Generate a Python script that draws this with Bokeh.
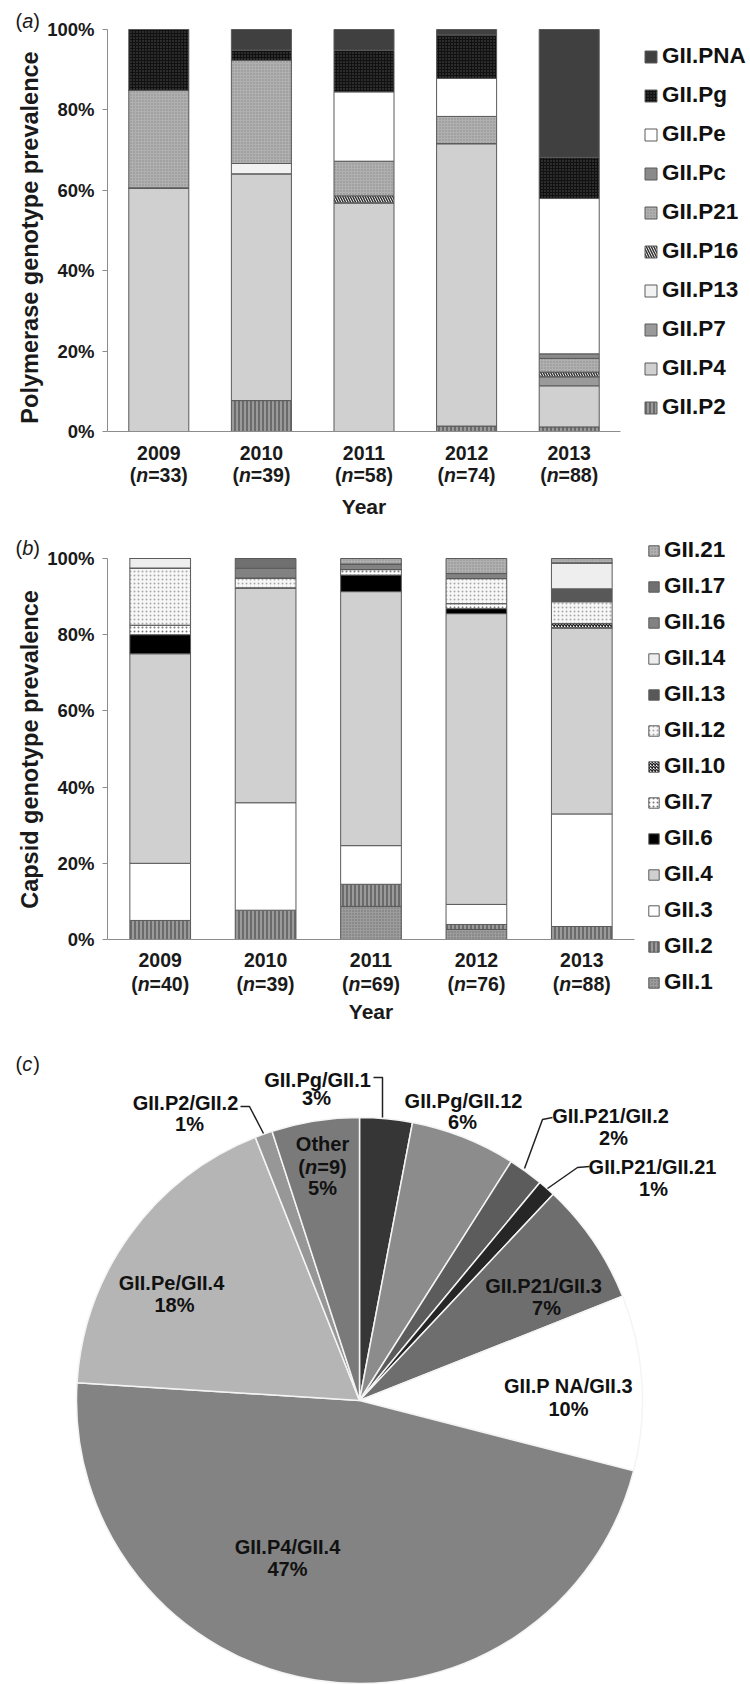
from bokeh.plotting import figure
from bokeh.layouts import column
from bokeh.models import (Range1d, FixedTicker, NumeralTickFormatter,
                          Legend, LegendItem, Label, ColumnDataSource)
from bokeh.transform import stack
from bokeh.core.properties import value
from bokeh.embed import file_html
from bokeh.resources import INLINE
import math

FONT = "Liberation Sans"
TXT = "#1a1a1a"

# ---------------- data ----------------
years = ["2009", "2010", "2011", "2012", "2013"]

# panel (a) polymerase genotypes (counts per year)
n_pol = [33, 39, 58, 74, 88]
pol_names = ["GII.P2", "GII.P4", "GII.P7", "GII.P13", "GII.P16",
             "GII.P21", "GII.Pc", "GII.Pe", "GII.Pg", "GII.PNA"]
P2 = [0, 3, 0, 1, 1]
P4 = [20, 22, 33, 52, 9]
P7 = [0, 0, 0, 0, 2]
P13 = [0, 1, 0, 0, 0]
P16 = [0, 0, 1, 0, 1]
P21 = [8, 10, 5, 5, 3]
Pc = [0, 0, 0, 0, 1]
Pe = [0, 0, 10, 7, 34]
Pg = [5, 1, 6, 8, 9]
PNA = [0, 2, 3, 1, 28]
pol_counts = [P2, P4, P7, P13, P16, P21, Pc, Pe, Pg, PNA]

# panel (b) capsid genotypes (counts per year)
n_cap = [40, 39, 69, 76, 88]
cap_names = ["GII.1", "GII.2", "GII.3", "GII.4", "GII.6", "GII.7", "GII.10",
             "GII.12", "GII.13", "GII.14", "GII.16", "GII.17", "GII.21"]
G1 = [0, 0, 6, 2, 0]
G2 = [2, 3, 4, 1, 3]
G3 = [6, 11, 7, 4, 26]
G4 = [22, 22, 46, 58, 43]
G6 = [2, 0, 3, 1, 0]
G7 = [1, 0, 1, 1, 0]
G10 = [0, 0, 0, 0, 1]
G12 = [6, 1, 0, 5, 5]
G13 = [0, 0, 0, 0, 3]
G14 = [1, 0, 0, 0, 6]
G16 = [0, 1, 1, 1, 0]
G17 = [0, 1, 0, 0, 0]
G21 = [0, 0, 1, 3, 1]
cap_counts = [G1, G2, G3, G4, G6, G7, G10, G12, G13, G14, G16, G17, G21]

# panel (c) combined genotypes (percent), clockwise from 12 o'clock
pie_names = ["GII.Pg/GII.1", "GII.Pg/GII.12", "GII.P21/GII.2", "GII.P21/GII.21",
             "GII.P21/GII.3", "GII.P NA/GII.3", "GII.P4/GII.4", "GII.Pe/GII.4",
             "GII.P2/GII.2", "Other"]
pie_pct = [3, 6, 2, 1, 7, 10, 47, 18, 1, 5]
other_n = 9

# ---------------- styles ----------------
pol_style = {
    "GII.P2": dict(fill_color="#9a9a9a", hatch_pattern="vertical_line", hatch_color="#3c3c3c", hatch_scale=4, hatch_weight=1),
    "GII.P4": dict(fill_color="#d0d0d0"),
    "GII.P7": dict(fill_color="#9a9a9a"),
    "GII.P13": dict(fill_color="#f2f2f2"),
    "GII.P16": dict(fill_color="#ffffff", hatch_pattern="left_diagonal_line", hatch_color="#333333", hatch_scale=5, hatch_weight=1.5),
    "GII.P21": dict(fill_color="#b0b0b0", hatch_pattern="dot", hatch_color="#8a8a8a", hatch_scale=3, hatch_weight=1),
    "GII.Pc": dict(fill_color="#8a8a8a"),
    "GII.Pe": dict(fill_color="#ffffff"),
    "GII.Pg": dict(fill_color="#111111", hatch_pattern="dot", hatch_color="#555555", hatch_scale=3, hatch_weight=1),
    "GII.PNA": dict(fill_color="#404040"),
}
cap_style = {
    "GII.1": dict(fill_color="#9c9c9c", hatch_pattern="dot", hatch_color="#6e6e6e", hatch_scale=3, hatch_weight=1),
    "GII.2": dict(fill_color="#9a9a9a", hatch_pattern="vertical_line", hatch_color="#3c3c3c", hatch_scale=4, hatch_weight=1),
    "GII.3": dict(fill_color="#ffffff"),
    "GII.4": dict(fill_color="#d0d0d0"),
    "GII.6": dict(fill_color="#000000"),
    "GII.7": dict(fill_color="#ffffff", hatch_pattern="dot", hatch_color="#777777", hatch_scale=4, hatch_weight=1.5),
    "GII.10": dict(fill_color="#ffffff", hatch_pattern="diagonal_cross", hatch_color="#222222", hatch_scale=3, hatch_weight=1.5),
    "GII.12": dict(fill_color="#f7f7f7", hatch_pattern="dot", hatch_color="#aaaaaa", hatch_scale=4, hatch_weight=1),
    "GII.13": dict(fill_color="#585858"),
    "GII.14": dict(fill_color="#eeeeee"),
    "GII.16": dict(fill_color="#828282"),
    "GII.17": dict(fill_color="#707070"),
    "GII.21": dict(fill_color="#b0b0b0", hatch_pattern="dot", hatch_color="#8a8a8a", hatch_scale=3, hatch_weight=1),
}
pie_colors = ["#363636", "#8c8c8c", "#5c5c5c", "#262626", "#6e6e6e",
              "#ffffff", "#838383", "#b5b5b5", "#979797", "#7a7a7a"]


def add_n_label(p, x, n, dy, fs=19.5):
    parts = [("(", "bold", 0.333), ("n", "bold italic", 0.611),
             ("=%d)" % n, "bold", 0.584 + 0.556 * len(str(n)) + 0.333)]
    W = sum(w for _, _, w in parts) * fs
    xo = -W / 2
    for t, style, w in parts:
        p.add_layout(Label(x=x, y=0, x_offset=xo, y_offset=-dy, text=t,
                           text_font=FONT, text_font_style=style,
                           text_font_size="%.1fpx" % fs, text_baseline="middle",
                           text_align="left", text_color=TXT))
        xo += w * fs


def add_panel_tag(p, letter, x, y, fs=20):
    parts = [("(", "normal", 0.333), (letter, "italic", 0.556), (")", "normal", 0.333)]
    xo = x
    for t, style, w in parts:
        p.add_layout(Label(x=xo, y=y, x_units="screen", y_units="screen", text=t,
                           text_font=FONT, text_font_style=style,
                           text_font_size="%dpx" % fs, text_baseline="middle",
                           text_align="left", text_color=TXT))
        xo += w * fs


def bar_panel(names, counts, ns, styles, ytitle, height, xr, yr, bar_w,
              legend_loc, legend_lh, legend_sp, legend_glyph, ndy,
              tick_so, year_so, ytitle_pos):
    p = figure(width=750, height=height, x_range=Range1d(*xr),
               y_range=Range1d(*yr), output_backend="svg", toolbar_location=None,
               min_border_left=0, min_border_right=0,
               min_border_top=0, min_border_bottom=0)
    xs = [i + 0.5 for i in range(len(years))]
    data = {"x": xs}
    for name, c in zip(names, counts):
        data[name] = [ci / ni for ci, ni in zip(c, ns)]
    src = ColumnDataSource(data)
    rends = []
    for i, name in enumerate(names):
        r = p.vbar(x="x", width=bar_w, bottom=stack(*names[:i]),
                   top=stack(*names[:i + 1]), source=src,
                   line_color="#5a5a5a", line_width=1, **styles[name])
        rends.append(r)
    items = [LegendItem(label=nm, renderers=[r]) for nm, r in zip(names, rends)][::-1]
    leg = Legend(items=items, location=legend_loc, padding=0, margin=0,
                 border_line_color=None, background_fill_alpha=0,
                 label_text_font=FONT, label_text_font_style="bold",
                 label_text_font_size="22.5px", label_text_color="#111111",
                 glyph_width=legend_glyph, glyph_height=legend_glyph,
                 label_height=legend_lh, spacing=legend_sp, label_standoff=4)
    p.add_layout(leg)

    p.xgrid.visible = False
    p.ygrid.visible = False
    p.outline_line_color = None
    p.background_fill_color = "white"

    ya = p.yaxis[0]
    ya.fixed_location = 0
    ya.bounds = (0, 1)
    ya.ticker = FixedTicker(ticks=[0, 0.2, 0.4, 0.6, 0.8, 1.0])
    ya.formatter = NumeralTickFormatter(format="0%")
    ya.axis_line_color = "#8c8c8c"
    ya.major_tick_line_color = "#8c8c8c"
    ya.major_tick_out = 5
    ya.major_tick_in = 0
    ya.minor_tick_line_color = None
    ya.major_label_standoff = 8
    ya.major_label_text_font = FONT
    ya.major_label_text_font_style = "bold"
    ya.major_label_text_font_size = "18.5px"
    ya.major_label_text_color = TXT

    # rotated y-axis title
    p.add_layout(Label(x=ytitle_pos[0], y=ytitle_pos[1], x_units="screen",
                       y_units="screen", text=ytitle, angle=math.pi / 2,
                       text_font=FONT, text_font_style="bold",
                       text_font_size="23.5px", text_color=TXT,
                       text_align="center", text_baseline="middle"))

    xa = p.xaxis[0]
    xa.fixed_location = 0
    xa.bounds = (0, len(years))
    xa.ticker = FixedTicker(ticks=xs)
    xa.major_label_overrides = {x: y for x, y in zip(xs, years)}
    xa.axis_line_color = "#8c8c8c"
    xa.major_tick_out = 0
    xa.major_tick_in = 0
    xa.major_tick_line_color = None
    xa.minor_tick_line_color = None
    xa.major_label_standoff = tick_so
    xa.major_label_text_font = FONT
    xa.major_label_text_font_style = "bold"
    xa.major_label_text_font_size = "19.5px"
    xa.major_label_text_color = TXT
    xa.axis_label = "Year"
    xa.axis_label_text_font = FONT
    xa.axis_label_text_font_style = "bold"
    xa.axis_label_text_font_size = "21px"
    xa.axis_label_text_color = TXT
    xa.axis_label_standoff = year_so

    for x, n in zip(xs, ns):
        add_n_label(p, x, n, ndy)
    return p


# panel (a): frame = whole figure; 0..1 maps to px 431..29, x unit = 102.6 px
pA = bar_panel(pol_names, pol_counts, n_pol, pol_style,
               "Polymerase genotype prevalence", 525,
               (-107 / 102.6, 643 / 102.6), (-94 / 402, 1 + 29 / 402), 0.585,
               (643, 105), 26, 13, 15, 43, 14, 32, (29, 525 - 237))
add_panel_tag(pA, "a", 15, 505)

# panel (b): 0..1 maps to px 414..33 (fig), x unit = 105.4 px
pB = bar_panel(cap_names, cap_counts, n_cap, cap_style,
               "Capsid genotype prevalence", 515,
               (-107 / 105.4, 643 / 105.4), (-101 / 381, 1 + 33 / 381), 0.576,
               (647, 45), 26, 10, 13, 44, 13, 30, (29, 515 - 224))
add_panel_tag(pB, "b", 15, 493)

# ---------------- pie ----------------
R = 283
cum = [0]
for v in pie_pct:
    cum.append(cum[-1] + v)
tot = cum[-1]
starts = [math.pi / 2 - 2 * math.pi * c / tot for c in cum[:-1]]
ends = [math.pi / 2 - 2 * math.pi * c / tot for c in cum[1:]]
pie_src = ColumnDataSource(dict(name=pie_names, pct=pie_pct, start=starts,
                                end=ends, color=pie_colors))

pC = figure(width=750, height=644, x_range=Range1d(-359, 391),
            y_range=Range1d(-284, 360), output_backend="svg",
            toolbar_location=None, min_border_left=0, min_border_right=0,
            min_border_top=0, min_border_bottom=0)
pC.wedge(x=0, y=0, radius=R, start_angle="start", end_angle="end",
         direction="clock", fill_color="color", line_color="#f4f4f4",
         line_width=1.5, source=pie_src)
pC.axis.visible = False
pC.grid.visible = False
pC.outline_line_color = None

# label placement (layout only): name line / percent line anchors
lab_pos = {
    "GII.Pg/GII.1": ((-42, 321), (-43, 303)),
    "GII.Pg/GII.12": ((104, 300), (103, 279)),
    "GII.P21/GII.2": ((251, 285), (254, 263)),
    "GII.P21/GII.21": ((293, 234), (294, 212)),
    "GII.P21/GII.3": ((184, 115), (187, 93)),
    "GII.P NA/GII.3": ((209, 15), (209, -8)),
    "GII.P4/GII.4": ((-72, -146), (-72, -168)),
    "GII.Pe/GII.4": ((-188, 118), (-185, 96)),
    "GII.P2/GII.2": ((-174, 298), (-170, 277)),
}
lx, ly, lt = [], [], []
for nm, pc in zip(pie_names, pie_pct):
    if nm not in lab_pos:
        continue
    (x1, y1), (x2, y2) = lab_pos[nm]
    lx += [x1, x2]
    ly += [y1, y2]
    lt += [nm, "%d%%" % pc]
pC.text(x=lx, y=ly, text=lt, text_font=value(FONT), text_font_style="bold",
        text_font_size="20px", text_align="center", text_baseline="middle",
        text_color="#111111")

# "Other" label inside its slice
oi = pie_names.index("Other")
pC.text(x=[-37, -37], y=[257, 213], text=["Other", "%d%%" % pie_pct[oi]],
        text_font=value(FONT), text_font_style="bold", text_font_size="20px",
        text_align="center", text_baseline="middle", text_color="#111111")
fs = 20
parts = [("(", "bold", 0.333), ("n", "bold italic", 0.611),
         ("=%d)" % other_n, "bold", 0.584 + 0.556 * len(str(other_n)) + 0.333)]
W = sum(w for _, _, w in parts) * fs
xo = -W / 2
for t, style, w in parts:
    pC.add_layout(Label(x=-37, y=234, x_offset=xo, text=t, text_font=FONT,
                        text_font_style=style, text_font_size="%dpx" % fs,
                        text_baseline="middle", text_align="left",
                        text_color="#111111"))
    xo += w * fs

# leader lines
leaders = [
    ([14, 23, 23], [323, 323, 283]),
    ([193, 183, 165], [283, 281, 232]),
    ([230, 218, 188], [234, 233, 212]),
    ([-119, -110, -96], [294, 294, 267]),
]
for xs_, ys_ in leaders:
    pC.line(x=xs_, y=ys_, line_color="#222222", line_width=1.5)

add_panel_tag(pC, "c", 15, 621)

layout = column(pA, pB, pC, spacing=0)
open("out.html", "w").write(file_html(layout, INLINE))
